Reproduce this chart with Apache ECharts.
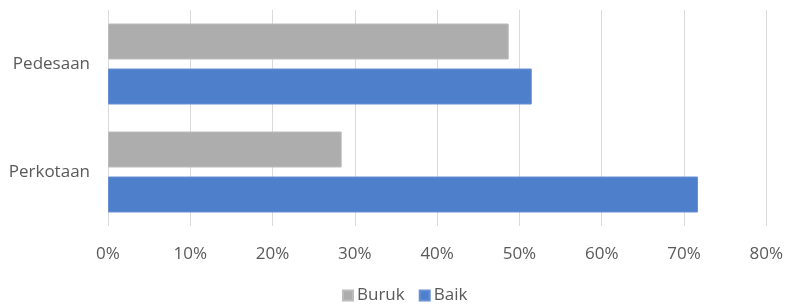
<!DOCTYPE html>
<html>
<head>
<meta charset="utf-8">
<script src="https://cdn.jsdelivr.net/npm/echarts@6/dist/echarts.min.js"></script>
<style>
  html, body { margin: 0; padding: 0; background: #fff; }
  #chart { width: 786px; height: 308px; }
</style>
</head>
<body>
<div id="chart"></div>
<script>
// data
const categories = ['Perkotaan', 'Pedesaan'];
const buruk = [28.4, 48.7];
const baik = [71.7, 51.5];
const xTicks = [0, 10, 20, 30, 40, 50, 60, 70, 80];

const myChart = echarts.init(document.getElementById('chart'));
const font = '"Open Sans", "DejaVu Sans", sans-serif';

myChart.setOption({
  animation: false,
  textStyle: { fontFamily: font },
  legend: {
    data: ['Buruk', 'Baik'],
    bottom: -1,
    left: 337,
    itemWidth: 10,
    itemHeight: 10,
    itemGap: 14,
    icon: 'rect',
    textStyle: { color: '#595959', fontSize: 17, fontFamily: font, padding: [0, 0, 0, -1] }
  },
  grid: { left: 108, right: 17, top: 10, bottom: 82 },
  xAxis: {
    type: 'value',
    min: xTicks[0],
    max: xTicks[xTicks.length - 1],
    interval: 10,
    axisLine: { show: false },
    axisTick: { show: false },
    splitLine: { lineStyle: { color: '#d9d9d9', width: 1 } },
    axisLabel: {
      color: '#595959',
      fontSize: 17,
      margin: 20,
      formatter: function (v) { return v + '%'; }
    }
  },
  yAxis: {
    type: 'category',
    data: categories,
    axisLine: { show: false },
    axisTick: { show: false },
    axisLabel: { color: '#595959', fontSize: 17, margin: 18 }
  },
  series: [
    {
      name: 'Buruk',
      type: 'bar',
      data: buruk,
      barGap: '25%',
      barCategoryGap: '25%',
      itemStyle: { color: '#adadad', borderColor: '#bcbcbc', borderWidth: 1 }
    },
    {
      name: 'Baik',
      type: 'bar',
      data: baik,
      itemStyle: { color: '#4e7fcb', borderColor: '#6690d4', borderWidth: 1 }
    }
  ]
});
window.onresize = function () { myChart.resize(); };
</script>
</body>
</html>
